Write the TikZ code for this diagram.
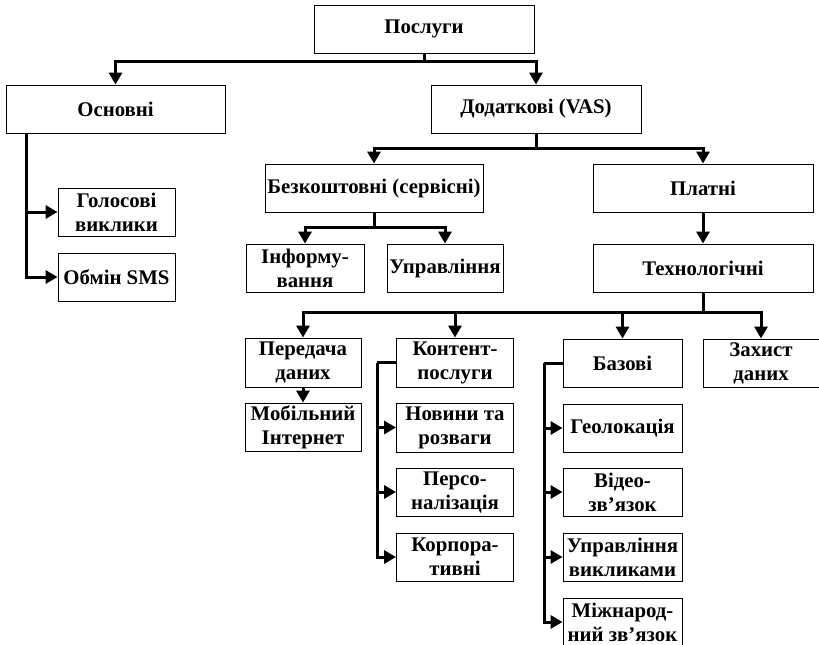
\documentclass[tikz,border=0pt]{standalone}
\usepackage{fontspec}
\setmainfont{Liberation Serif}
\usetikzlibrary{arrows.meta}
\begin{document}
\begin{tikzpicture}[x=1pt,y=-1pt,
  box/.style={draw, line width=0.9pt, inner sep=0pt, align=center,
    font=\fontsize{20.8}{24}\selectfont\bfseries},
  wire/.style={line width=3pt},
  arr/.style={line width=3pt, -{Triangle[length=12pt,width=13pt]}}]
\useasboundingbox (0,0) rectangle (819,645);
% nodes
\node[box, minimum width=220pt, minimum height=48pt] (posl) at (424,29) {Послуги};
\node[box, minimum width=219pt, minimum height=48pt] (osn) at (115.5,109) {Основні};
\node[box, minimum width=210pt, minimum height=48pt] (dod) at (536,109) {Додаткові (VAS)};
\node[box, minimum width=218pt, minimum height=48pt] (bez) at (374,188) {Безкоштовні (сервісні)};
\node[box, minimum width=220pt, minimum height=48pt] (plat) at (703,188) {Платні};
\node[box, minimum width=117pt, minimum height=48pt] (golos) at (116.5,212) {Голосові\\виклики};
\node[box, minimum width=117pt, minimum height=48pt] (sms) at (116.5,277) {Обмін SMS};
\node[box, minimum width=118pt, minimum height=48pt] (inform) at (305,268) {Інформу-\\вання};
\node[box, minimum width=116pt, minimum height=48pt] (uprav) at (445,268) {Управління};
\node[box, minimum width=220pt, minimum height=48pt] (tech) at (703,268) {Технологічні};
\node[box, minimum width=116pt, minimum height=49pt] (pered) at (303,362.5) {Передача\\даних};
\node[box, minimum width=116pt, minimum height=48pt] (mob) at (303,427) {Мобільний\\Інтернет};
\node[box, minimum width=117pt, minimum height=49pt] (kont) at (455,362.5) {Контент-\\послуги};
\node[box, minimum width=117pt, minimum height=49pt] (novyny) at (455,427.5) {Новини та\\розваги};
\node[box, minimum width=117pt, minimum height=48pt] (perso) at (455,492) {Персо-\\налізація};
\node[box, minimum width=117pt, minimum height=48pt] (korp) at (455,557) {Корпора-\\тивні};
\node[box, minimum width=119pt, minimum height=48pt] (baz) at (622.5,363) {Базові};
\node[box, minimum width=116pt, minimum height=48pt] (zah) at (761,363) {Захист\\даних};
\node[box, minimum width=119pt, minimum height=48pt] (geo) at (622.5,428) {Геолокація};
\node[box, minimum width=119pt, minimum height=48pt] (video) at (622.5,492) {Відео-\\зв’язок};
\node[box, minimum width=119pt, minimum height=48pt] (uprv) at (622.5,557) {Управління\\викликами};
\node[box, minimum width=119pt, minimum height=48pt] (mizh) at (622.5,622) {Міжнарод-\\ний зв’язок};
% connectors
\coordinate (j1) at (424,61);
\draw[wire] (posl.south) -- (j1);
\draw[arr] (j1) -| (osn.north);
\draw[arr] (j1) -| (dod.north);
\coordinate (o1) at (26,133);
\draw[arr] (o1) |- (sms.west);
\draw[arr] (o1 |- golos.west) -- (golos.west);
\coordinate (j2) at (536,148);
\draw[wire] (dod.south) -- (j2);
\draw[arr] (j2) -| (bez.north);
\draw[arr] (j2) -| (plat.north);
\coordinate (j3) at (374,227);
\draw[wire] (bez.south) -- (j3);
\draw[arr] (j3) -| (inform.north);
\draw[arr] (j3) -| (uprav.north);
\draw[arr] (plat.south) -- (tech.north);
\coordinate (j4) at (703,312);
\draw[wire] (tech.south) -- (j4);
\draw[arr] (j4) -| (pered.north);
\draw[arr] (j4) -| (kont.north);
\draw[arr] (j4) -| (baz.north);
\draw[arr] (j4) -| (zah.north);
\draw[arr] (pered.south) -- (mob.north);
\coordinate (k1) at (377,362.5);
\draw[wire] (kont.west) -- (k1);
\draw[arr] (k1) |- (korp.west);
\draw[arr] (k1 |- novyny.west) -- (novyny.west);
\draw[arr] (k1 |- perso.west) -- (perso.west);
\coordinate (b1) at (544,363);
\draw[wire] (baz.west) -- (b1);
\draw[arr] (b1) |- (mizh.west);
\draw[arr] (b1 |- geo.west) -- (geo.west);
\draw[arr] (b1 |- video.west) -- (video.west);
\draw[arr] (b1 |- uprv.west) -- (uprv.west);
\end{tikzpicture}
\end{document}
